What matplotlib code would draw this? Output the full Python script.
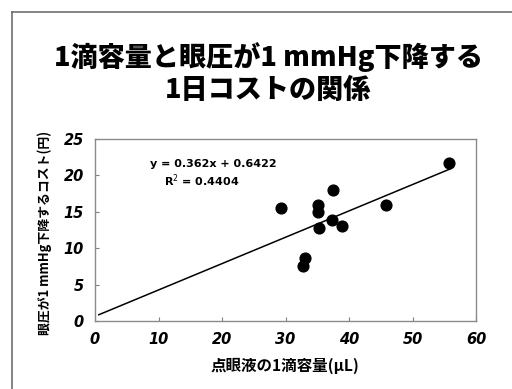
import matplotlib
matplotlib.use("Agg")
import matplotlib.pyplot as plt
from matplotlib.lines import Line2D
import numpy as np

plt.rcParams['font.family'] = ['Noto Sans CJK JP', 'DejaVu Sans']

drop_volume = [55.7, 37.5, 35.1, 35.1, 29.3, 45.9, 37.3, 35.2, 38.9, 33.1, 32.7]
cost = [21.7, 18.0, 16.0, 15.0, 15.5, 15.9, 13.9, 12.8, 13.1, 8.6, 7.55]
slope = 0.362
intercept = 0.6422
r2 = 0.4404
x_ticks = [0, 10, 20, 30, 40, 50, 60]
y_ticks = [0, 5, 10, 15, 20, 25]

fig = plt.figure(figsize=(5.12, 3.89), dpi=100)
W, H = 512, 389

# outer frame (left and top edges)
fig.add_artist(Line2D([11.5 / W, 11.5 / W], [0, 1 - 12 / H], transform=fig.transFigure, color='#6e6e6e', lw=1.2))
fig.add_artist(Line2D([11.5 / W, 1], [1 - 12 / H, 1 - 12 / H], transform=fig.transFigure, color='#6e6e6e', lw=1.2))

ax = fig.add_axes([95 / W, 1 - 321 / H, (476 - 95) / W, (321 - 139) / H])
ax.scatter(drop_volume, cost, s=60, color='black', zorder=3)
xs = np.array([0.6, 56.0])
ax.plot(xs, slope * xs + intercept, color='black', lw=1.1)

ax.set_xlim(0, 60)
ax.set_ylim(0, 25)
ax.set_xticks(x_ticks)
ax.set_yticks(y_ticks)
ax.tick_params(direction='in', length=3, color='#808080', pad=8)
for lab in ax.get_xticklabels() + ax.get_yticklabels():
    lab.set_fontfamily('DejaVu Sans')
    lab.set_fontweight('bold')
    lab.set_fontstyle('italic')
    lab.set_fontsize(10.5)
for sp in ax.spines.values():
    sp.set_color('#8a8a8a')
    sp.set_linewidth(1.0)

ax.text(0.31, 0.86, f'y = {slope}x + {intercept}', transform=ax.transAxes, ha='center', va='center',
        fontsize=8, fontweight='bold', family='DejaVu Sans')
ax.text(0.28, 0.77, f'R$^2$ = {r2}', transform=ax.transAxes, ha='center', va='center',
        fontsize=8, fontweight='bold', family='DejaVu Sans')

fig.text(268 / W, 1 - 73 / H, '1滴容量と眼圧が1 mmHg下降する\n1日コストの関係', ha='center', va='center',
         fontsize=19.5, fontweight='black', linespacing=1.12)
fig.text(45 / W, 1 - 233 / H, '眼圧が1 mmHg下降するコスト(円)', rotation=90, ha='center', va='center',
         fontsize=9.3, fontweight='bold')
fig.text(285 / W, 1 - 366 / H, '点眼液の1滴容量(μL)', ha='center', va='center',
         fontsize=11.2, fontweight='bold')

fig.savefig('out.png', dpi=100)
